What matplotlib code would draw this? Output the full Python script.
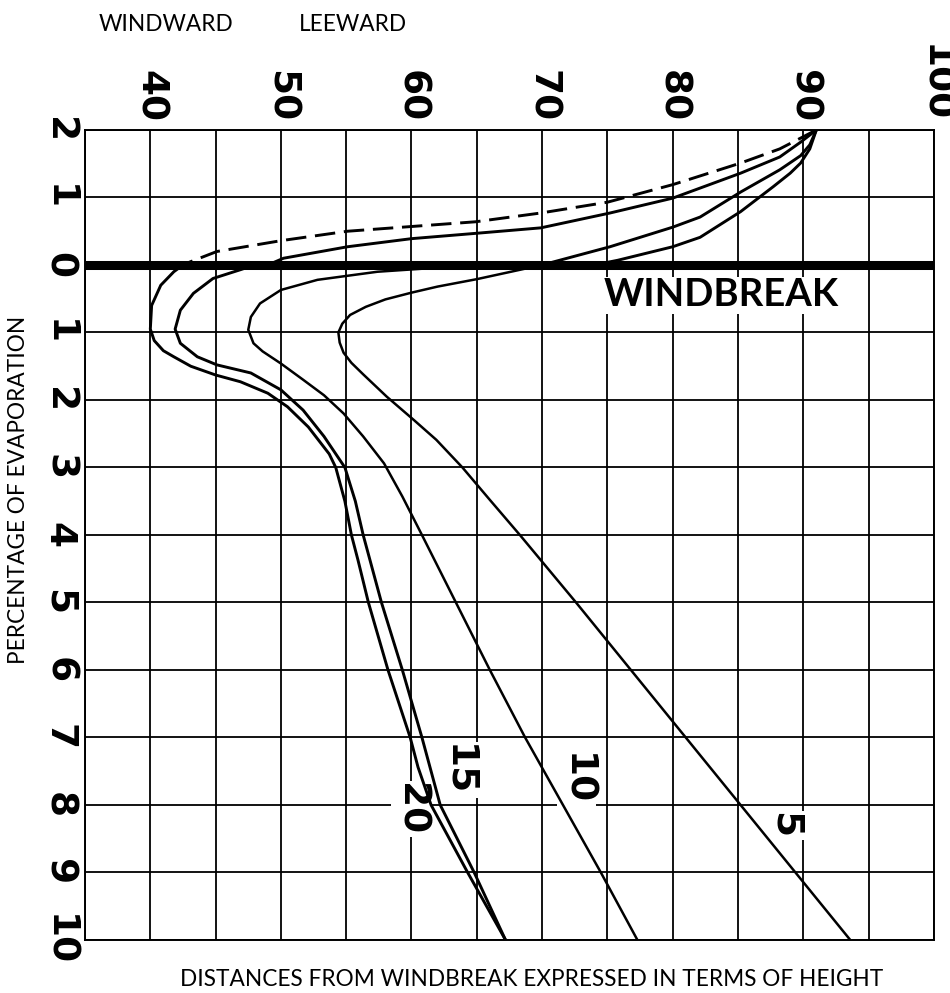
import matplotlib.pyplot as plt

plt.rcParams['font.family'] = ['Lato', 'DejaVu Sans']

# percentage of evaporation (x) and distance in heights (y, windward negative)
pct_ticks = [40, 50, 60, 70, 80, 90, 100]
dist_ticks = [-2, -1, 0, 1, 2, 3, 4, 5, 6, 7, 8, 9, 10]
dist_labels = ['2', '1', '0', '1', '2', '3', '4', '5', '6', '7', '8', '9', '10']

# windward side of the break
ww20_pct = [91.0, 88.2, 85.2, 80.0, 75.0, 69.9, 64.9, 60.0, 55.1, 50.0, 45.1, 43.1, 42.5]
ww20_dist = [-2.0, -1.72, -1.51, -1.19, -0.93, -0.77, -0.64, -0.57, -0.5, -0.36, -0.2, -0.05, 0.0]

ww15_pct = [91.0, 89.8, 88.2, 85.2, 80.0, 75.2, 69.9, 65.0, 60.0, 55.1, 50.2, 49.0]
ww15_dist = [-2.0, -1.82, -1.6, -1.36, -0.99, -0.77, -0.55, -0.47, -0.39, -0.27, -0.1, 0.0]

ww10_pct = [91.0, 90.5, 89.8, 89.0, 87.7, 85.2, 82.1, 80.0, 75.8, 74.0]
ww10_dist = [-2.0, -1.72, -1.51, -1.36, -1.16, -0.79, -0.41, -0.27, -0.07, 0.0]

ww5_pct = [91.0, 90.5, 89.8, 88.2, 85.2, 82.1, 80.0, 75.2, 72.5, 70.0]
ww5_dist = [-2.0, -1.78, -1.62, -1.41, -1.08, -0.71, -0.56, -0.27, -0.13, 0.0]

# leeward side of the break
lw20_dist = [0.0, 0.1, 0.3, 0.6, 0.95, 1.12, 1.27, 1.36, 1.5, 1.63, 1.73, 1.9, 2.1,
             2.4, 2.8, 3.0, 3.5, 4.0, 4.37, 5.0, 6.0, 7.0, 7.44, 8.0, 9.0, 10.0]
lw20_pct = [42.5, 41.8, 40.8, 40.1, 40.0, 40.3, 41.0, 41.8, 43.1, 45.0, 46.9, 49.0, 50.5,
            52.1, 53.7, 54.2, 54.9, 55.4, 55.9, 56.7, 58.2, 59.9, 60.5, 61.5, 64.3, 67.2]

lw15_dist = [0.0, 0.07, 0.2, 0.42, 0.67, 0.95, 1.16, 1.36, 1.48, 1.6, 1.85, 2.15, 2.54,
             3.0, 3.5, 4.0, 5.0, 6.0, 7.0, 8.0, 9.0, 10.0]
lw15_pct = [48.0, 46.9, 44.8, 43.3, 42.3, 41.9, 42.3, 43.6, 45.1, 47.7, 50.0, 51.7, 53.3,
            54.9, 55.7, 56.3, 57.7, 59.3, 60.8, 62.2, 64.8, 67.2]

lw10_dist = [0.04, 0.1, 0.22, 0.37, 0.57, 0.77, 0.96, 1.16, 1.28, 1.46, 1.7, 1.93, 2.2,
             2.54, 2.94, 3.43, 4.0, 5.0, 6.0, 7.0, 8.0, 9.0, 10.0]
lw10_pct = [62.0, 57.4, 52.8, 50.0, 48.4, 47.7, 47.5, 47.9, 48.6, 50.0, 51.7, 53.3, 54.8,
            56.3, 57.9, 59.3, 60.8, 63.4, 66.0, 68.7, 71.6, 74.5, 77.3]

lw5_dist = [0.0, 0.21, 0.32, 0.41, 0.51, 0.62, 0.74, 0.87, 1.0, 1.15, 1.3, 1.45, 1.62,
            1.95, 2.3, 2.59, 3.0, 3.48, 4.0, 5.0, 6.0, 7.0, 8.0, 9.0, 10.0]
lw5_pct = [70.0, 65.0, 62.0, 60.0, 58.0, 56.5, 55.3, 54.7, 54.4, 54.5, 54.8, 55.4, 56.3,
           58.1, 60.2, 61.9, 63.9, 66.0, 68.3, 72.6, 76.8, 81.0, 85.2, 89.4, 93.6]

fig = plt.figure(figsize=(9.5, 9.93), dpi=100)
ax = fig.add_axes([0.0895, 0.0534, 0.8935, 0.8157])

ax.set_xlim(35, 100)
ax.set_ylim(10, -2)

# square grid every 5 % and every unit of height
for v in range(35, 101, 5):
    ax.axvline(v, color='black', lw=1.3, zorder=1)
for d in dist_ticks:
    ax.axhline(d, color='black', lw=1.3, zorder=1)
for s in ax.spines.values():
    s.set_linewidth(1.4)

# the windbreak itself
ax.axhline(0, color='black', lw=6.5, zorder=3)

style = dict(color='black', zorder=2, solid_joinstyle='round', solid_capstyle='round')
ax.plot(ww20_pct, ww20_dist, lw=2.1, dashes=(7, 3), **style)
ax.plot(ww15_pct, ww15_dist, lw=2.1, **style)
ax.plot(ww10_pct, ww10_dist, lw=2.1, **style)
ax.plot(ww5_pct, ww5_dist, lw=2.1, **style)
ax.plot(lw20_pct, lw20_dist, lw=2.1, **style)
ax.plot(lw15_pct, lw15_dist, lw=2.1, **style)
ax.plot(lw10_pct, lw10_dist, lw=1.8, **style)
ax.plot(lw5_pct, lw5_dist, lw=1.8, **style)

# tick labels, set on their side
num_font = dict(family='DejaVu Sans', fontweight='bold', fontsize=27)
ax.xaxis.tick_top()
ax.set_xticks(pct_ticks)
ax.set_xticklabels([str(t) for t in pct_ticks], rotation=-90,
                   va='bottom', ha='center', **num_font)
ax.set_yticks(dist_ticks)
ax.set_yticklabels(dist_labels, rotation=-90, va='center', ha='right', **num_font)
ax.tick_params(length=0, pad=6)

# labels sit on white patches that break the grid, under the curves
box = dict(facecolor='white', edgecolor='none', pad=1)
ax.text(83.7, 0.45, 'WINDBREAK', fontsize=27.5, fontweight='bold', ha='center',
        va='center', bbox=box, zorder=1.5)
curve_labels = ['5', '10', '15', '20']
label_pct = [88.6, 72.6, 63.6, 59.9]
label_dist = [8.3, 7.61, 7.48, 8.06]
for txt, v, d in zip(curve_labels, label_pct, label_dist):
    ax.text(v, d, txt, rotation=-90, ha='center', va='center', bbox=box,
            zorder=1.5, **num_font)

fig.text(0.019, 0.5065, 'PERCENTAGE OF EVAPORATION', rotation=90, fontsize=16.3,
         ha='center', va='center')
fig.text(0.56, 0.0135, 'DISTANCES FROM WINDBREAK EXPRESSED IN TERMS OF HEIGHT',
         fontsize=16.3, ha='center', va='center')
fig.text(0.175, 0.975, 'WINDWARD', fontsize=16.3, ha='center', va='center')
fig.text(0.372, 0.975, 'LEEWARD', fontsize=16.3, ha='center', va='center')

fig.savefig('out.png', dpi=100)
